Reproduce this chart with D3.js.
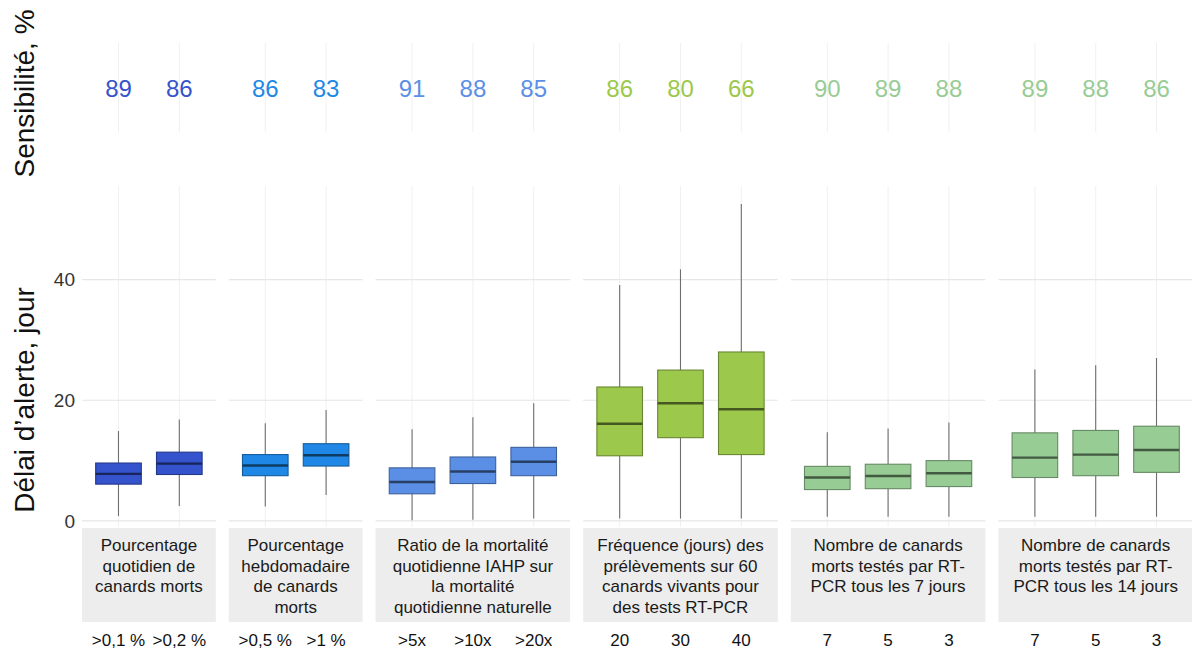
<!DOCTYPE html>
<html>
<head>
<meta charset="utf-8">
<script src="https://cdn.jsdelivr.net/npm/d3@7"></script>
<style>
  html, body { margin: 0; padding: 0; background: #ffffff; }
  svg { display: block; font-family: "Liberation Sans", Arial, sans-serif; }
</style>
</head>
<body>
<svg id="chart" width="1192" height="654"></svg>
<script>
// ---------------- DATA ----------------
const panelTitles = [
  ["Pourcentage", "quotidien de", "canards morts"],
  ["Pourcentage", "hebdomadaire", "de canards", "morts"],
  ["Ratio de la mortalité", "quotidienne IAHP sur", "la mortalité", "quotidienne naturelle"],
  ["Fréquence (jours) des", "prélèvements sur 60", "canards vivants pour", "des tests RT-PCR"],
  ["Nombre de canards", "morts testés par RT-", "PCR tous les 7 jours"],
  ["Nombre de canards", "morts testés par RT-", "PCR tous les 14 jours"]
];
const categories = [
  [">0,1 %", ">0,2 %"],
  [">0,5 %", ">1 %"],
  [">5x", ">10x", ">20x"],
  ["20", "30", "40"],
  ["7", "5", "3"],
  ["7", "5", "3"]
];
const sensitivity = [
  [89, 86],
  [86, 83],
  [91, 88, 85],
  [86, 80, 66],
  [90, 89, 88],
  [89, 88, 86]
];
const whiskerLow = [
  [0.8, 2.5],
  [2.4, 4.3],
  [0.1, 0.2, 0.4],
  [0.4, 0.4, 0.4],
  [0.7, 0.7, 0.7],
  [0.7, 0.7, 0.7]
];
const q1 = [
  [6.1, 7.7],
  [7.5, 9.1],
  [4.5, 6.2, 7.5],
  [10.8, 13.8, 11.0],
  [5.2, 5.35, 5.7],
  [7.2, 7.5, 8.05]
];
const median = [
  [7.8, 9.5],
  [9.2, 10.9],
  [6.45, 8.2, 9.8],
  [16.1, 19.5, 18.5],
  [7.2, 7.45, 7.9],
  [10.5, 11.0, 11.75]
];
const q3 = [
  [9.6, 11.4],
  [11.0, 12.8],
  [8.8, 10.6, 12.2],
  [22.2, 25.0, 28.0],
  [9.05, 9.4, 10.0],
  [14.6, 15.0, 15.7]
];
const whiskerHigh = [
  [14.9, 16.8],
  [16.2, 18.4],
  [15.2, 17.2, 19.5],
  [39.1, 41.7, 52.5],
  [14.7, 15.3, 16.3],
  [25.1, 25.8, 27.0]
];
const yTicks = [0, 20, 40];
const panelColors = ["#3553cc", "#1f88e6", "#5b8fe6", "#9cc84b", "#98cc95", "#98cc95"];

// ---------------- LAYOUT ----------------
const svg = d3.select("#chart");
const left = 82, right = 1193, gap = 13;
const mainTop = 186, mainBottom = 527;
const topTop = 43, topBottom = 132;
const stripTop = 528, stripBottom = 622;

const units = categories.map(c => c.length - 1 + 1.2);
const unit = (right - left - gap * (categories.length - 1)) / d3.sum(units);

let cursor = left;
const panels = categories.map((cats, i) => {
  const x0 = cursor, x1 = cursor + units[i] * unit;
  cursor = x1 + gap;
  const x = d3.scalePoint().domain(d3.range(cats.length)).range([x0, x1]).padding(0.6);
  return { i, x0, x1, x };
});

const y = d3.scaleLinear().domain([-1, 55.5]).range([mainBottom, mainTop]);
const boxW = 0.75 * unit;

// ---------------- TOP (Sensibilité) ----------------
panels.forEach(p => {
  const g = svg.append("g");
  g.selectAll("line.vg").data(sensitivity[p.i]).join("line")
    .attr("x1", (d, j) => p.x(j)).attr("x2", (d, j) => p.x(j))
    .attr("y1", topTop).attr("y2", topBottom)
    .attr("stroke", "#f0f0f0").attr("stroke-width", 1);
  g.selectAll("text").data(sensitivity[p.i]).join("text")
    .attr("x", (d, j) => p.x(j)).attr("y", 97)
    .attr("text-anchor", "middle")
    .attr("font-size", 24)
    .attr("fill", panelColors[p.i])
    .text(d => d);
});

svg.append("text")
  .attr("transform", `translate(34, ${(12 + 175) / 2}) rotate(-90)`)
  .attr("text-anchor", "middle")
  .attr("font-size", 28).attr("fill", "#111")
  .text("Sensibilité, %");

// ---------------- MAIN PANELS ----------------
panels.forEach(p => {
  const g = svg.append("g");
  const col = d3.color(panelColors[p.i]);
  // vertical grid
  g.selectAll("line.vg").data(categories[p.i]).join("line")
    .attr("x1", (d, j) => p.x(j)).attr("x2", (d, j) => p.x(j))
    .attr("y1", mainTop).attr("y2", mainBottom)
    .attr("stroke", "#f0f0f0").attr("stroke-width", 1);
  // horizontal grid
  g.selectAll("line.hg").data(yTicks).join("line")
    .attr("x1", p.x0).attr("x2", p.x1)
    .attr("y1", d => y(d)).attr("y2", d => y(d))
    .attr("stroke", "#e6e6e6").attr("stroke-width", 1.2);
  // whiskers
  g.selectAll("line.wh").data(categories[p.i]).join("line")
    .attr("x1", (d, j) => p.x(j)).attr("x2", (d, j) => p.x(j))
    .attr("y1", (d, j) => y(whiskerLow[p.i][j]))
    .attr("y2", (d, j) => y(whiskerHigh[p.i][j]))
    .attr("stroke", "#6e6e6e").attr("stroke-width", 1.1);
  // boxes
  g.selectAll("rect.box").data(categories[p.i]).join("rect")
    .attr("x", (d, j) => p.x(j) - boxW / 2)
    .attr("width", boxW)
    .attr("y", (d, j) => y(q3[p.i][j]))
    .attr("height", (d, j) => y(q1[p.i][j]) - y(q3[p.i][j]))
    .attr("fill", col.formatHex())
    .attr("stroke", col.darker(1.1).formatHex())
    .attr("stroke-width", 1.1);
  // medians
  g.selectAll("line.med").data(categories[p.i]).join("line")
    .attr("x1", (d, j) => p.x(j) - boxW / 2)
    .attr("x2", (d, j) => p.x(j) + boxW / 2)
    .attr("y1", (d, j) => y(median[p.i][j]))
    .attr("y2", (d, j) => y(median[p.i][j]))
    .attr("stroke", col.darker(2.3).formatHex())
    .attr("stroke-width", 2.4);
  // strip
  g.append("rect")
    .attr("x", p.x0).attr("width", p.x1 - p.x0)
    .attr("y", stripTop).attr("height", stripBottom - stripTop)
    .attr("fill", "#ededed");
  g.selectAll("text.strip").data(panelTitles[p.i]).join("text")
    .attr("x", (p.x0 + p.x1) / 2)
    .attr("y", (d, k) => 551 + k * 20.7)
    .attr("text-anchor", "middle")
    .attr("font-size", 17).attr("fill", "#1a1a1a")
    .text(d => d);
  // category labels
  g.selectAll("text.cat").data(categories[p.i]).join("text")
    .attr("x", (d, j) => p.x(j)).attr("y", 646)
    .attr("text-anchor", "middle")
    .attr("font-size", 17).attr("fill", "#111")
    .text(d => d);
});

// y axis
const yAxis = d3.axisLeft(y).tickValues(yTicks).tickSize(0).tickPadding(0);
const ga = svg.append("g").attr("transform", "translate(75,0)").call(yAxis);
ga.select(".domain").remove();
ga.selectAll("text").attr("font-size", 19).attr("fill", "#333")
  .attr("font-family", "Liberation Sans, Arial, sans-serif");

svg.append("text")
  .attr("transform", `translate(34, 400) rotate(-90)`)
  .attr("text-anchor", "middle")
  .attr("font-size", 28).attr("fill", "#111")
  .text("Délai d’alerte, jour");
</script>
</body>
</html>
